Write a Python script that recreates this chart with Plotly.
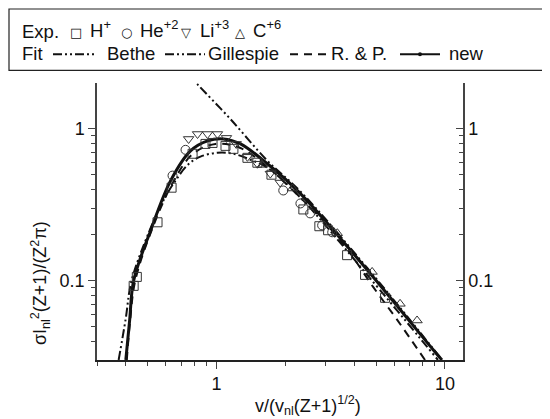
import plotly.graph_objects as go

# ── experimental points ─────────────────────────────────────
h_x = [0.434, 0.448, 0.552, 0.636, 0.786, 0.895, 0.961, 1.095, 1.186, 1.366, 1.51,
       1.74, 2.40, 2.82, 3.08, 3.73, 4.47, 5.47]
h_y = [0.0923, 0.1057, 0.242, 0.409, 0.684, 0.794, 0.806, 0.771, 0.737, 0.643, 0.597,
       0.498, 0.294, 0.228, 0.2145, 0.147, 0.109, 0.077]

he_x = [0.642, 0.732, 1.96, 2.33, 2.57, 2.90, 3.21]
he_y = [0.491, 0.726, 0.392, 0.322, 0.277, 0.231, 0.208]

li_x = [0.755, 0.826, 0.913, 1.01, 1.106, 1.22, 1.366, 1.51, 1.72, 1.90]
li_y = [0.856, 0.923, 0.923, 0.923, 0.87, 0.794, 0.653, 0.588, 0.506, 0.442]

c_x = [1.59, 2.15, 3.38, 4.80, 6.36, 7.55]
c_y = [0.578, 0.404, 0.205, 0.114, 0.0703, 0.0546]

# ── fitted curves ───────────────────────────────────────────
bethe_x = [0.732, 0.826, 1.151, 1.67, 2.33, 4.57, 9.51]
bethe_y = [2.38, 1.957, 1.157, 0.615, 0.386, 0.121, 0.0313]

gill_x = [0.373, 0.40, 0.425, 0.51, 0.60, 0.665, 0.75, 0.851, 1.01, 1.186, 1.407, 1.67,
          2.33, 4.57, 9.32]
gill_y = [0.03, 0.0553, 0.1, 0.214, 0.36, 0.46, 0.58, 0.655, 0.694, 0.684, 0.625, 0.554,
          0.352, 0.109, 0.03]

rp_x = [0.405, 0.419, 0.441, 0.52, 0.643, 0.786, 0.99, 1.273, 1.67, 2.33, 3.15, 3.85,
        4.85, 6.17, 8.18]
rp_y = [0.03, 0.0553, 0.1, 0.214, 0.44, 0.68, 0.794, 0.747, 0.56, 0.352, 0.22, 0.151,
        0.0908, 0.0553, 0.03]

new_x = [0.401, 0.417, 0.434, 0.515, 0.630, 0.770, 0.914, 1.073, 1.273, 1.670, 2.33,
         4.57, 8.86, 9.70]
new_y = [0.030, 0.0553, 0.1, 0.214, 0.455, 0.715, 0.831, 0.856, 0.794, 0.588, 0.374,
         0.1175, 0.0352, 0.030]

FONT = "Liberation Sans, Arial, sans-serif"
INK = "#111111"
DASH_DOT_DOT = "9px,3px,2px,3px,2px,3px"
DASHED = "8px,6px"

fig = go.Figure()

# curves
fig.add_trace(go.Scatter(x=bethe_x, y=bethe_y, mode="lines", name="Bethe",
                         line=dict(color=INK, width=2, dash=DASH_DOT_DOT, shape="spline")))
fig.add_trace(go.Scatter(x=gill_x, y=gill_y, mode="lines", name="Gillespie",
                         line=dict(color=INK, width=2, dash=DASH_DOT_DOT, shape="spline")))
fig.add_trace(go.Scatter(x=rp_x, y=rp_y, mode="lines", name="R. & P.",
                         line=dict(color=INK, width=2, dash=DASHED, shape="spline")))
fig.add_trace(go.Scatter(x=new_x, y=new_y, mode="lines", name="new",
                         line=dict(color=INK, width=3, shape="spline")))

# points
for xs, ys, sym, name in [
    (h_x, h_y, "square-open", "H+"),
    (he_x, he_y, "circle-open", "He+2"),
    (li_x, li_y, "triangle-down-open", "Li+3"),
    (c_x, c_y, "triangle-up-open", "C+6"),
]:
    fig.add_trace(go.Scatter(x=xs, y=ys, mode="markers", name=name,
                             marker=dict(symbol=sym, size=9, color="#333",
                                         line=dict(width=1, color="#333"))))

# dummy trace for the right-hand axis
fig.add_trace(go.Scatter(x=[1], y=[1], yaxis="y2", mode="markers", showlegend=False,
                         marker=dict(opacity=0), hoverinfo="skip"))

xminor = [0.3, 0.4, 0.5, 0.6, 0.7, 0.8, 0.9, 2, 3, 4, 5, 6, 7, 8, 9]
yminor = [0.04, 0.05, 0.06, 0.07, 0.08, 0.09, 0.2, 0.3, 0.4, 0.5, 0.6, 0.7, 0.8, 0.9]
xr = [-0.523, 1.079]
yr = [-1.523, 0.301]

# the page body adds an 8px offset, so the figure is 8px smaller on each side
fig.update_layout(
    width=542, height=411,
    margin=dict(l=89, r=87, t=75, b=59),
    paper_bgcolor="white", plot_bgcolor="white",
    font=dict(family=FONT, size=18, color=INK),
    showlegend=False,
    xaxis=dict(type="log", range=xr, tickvals=[1, 10], ticktext=["1", "10"],
               ticks="outside", ticklen=7, showline=True, linecolor="#222", linewidth=1.5,
               showgrid=False, zeroline=False,
               minor=dict(tickvals=xminor, ticks="outside", ticklen=4, showgrid=False)),
    xaxis2=dict(type="log", range=xr, overlaying="x", side="top", showticklabels=False,
                tickvals=[1, 10], ticks="inside", ticklen=7, showline=True,
                linecolor="#222", linewidth=1.5, showgrid=False,
                minor=dict(tickvals=xminor, ticks="inside", ticklen=4, showgrid=False)),
    yaxis=dict(type="log", range=yr, tickvals=[0.1, 1], ticktext=["0.1", "1"],
               ticks="outside", ticklen=7, showline=True, linecolor="#444", linewidth=1.5,
               showgrid=False, zeroline=False,
               minor=dict(tickvals=yminor, ticks="outside", ticklen=4, showgrid=False)),
    yaxis2=dict(type="log", range=yr, overlaying="y", side="right",
                tickvals=[0.1, 1], ticktext=["0.1", "1"], ticks="inside", ticklen=7,
                showline=True, linecolor="#444", linewidth=1.5, showgrid=False,
                minor=dict(tickvals=yminor, ticks="inside", ticklen=4, showgrid=False)),
)


# ── hand-drawn legend box (Origin style) ────────────────────
def px(x):
    return (x - 97) / 366


def py(y):
    return (360 - y) / 277.3


def label(text, x, y, size=18.5, anchor="left", family=FONT):
    fig.add_annotation(text=text, xref="paper", yref="paper", x=px(x), y=py(y),
                       xanchor=anchor, yanchor="middle", showarrow=False,
                       font=dict(size=size, family=family), borderpad=0)


fig.add_shape(type="rect", xref="paper", yref="paper", x0=px(9), x1=px(549),
              y0=py(70), y1=py(8.6), line=dict(color="#222", width=1.2))

row1, row2 = 31, 53
label("Exp.", 21, row1)
for sym, name, xs, xt in [("□", "H<sup>+</sup>", 76, 89), ("○", "He<sup>+2</sup>", 126, 139),
                          ("▽", "Li<sup>+3</sup>", 186, 199), ("△", "C<sup>+6</sup>", 240, 252)]:
    label(sym, xs, row1 + 1, size=13, anchor="center", family="DejaVu Sans")
    label(name, xt, row1 - 2)

label("Fit", 21, row2)
for dash, x0, x1 in [(DASH_DOT_DOT, 53, 95), (DASH_DOT_DOT, 165, 205), (DASHED, 290, 326),
                     ("solid", 400, 440)]:
    fig.add_shape(type="line", xref="paper", yref="paper", x0=px(x0), x1=px(x1),
                  y0=py(row2 + 1), y1=py(row2 + 1), line=dict(color=INK, width=2, dash=dash))
fig.add_shape(type="circle", xref="paper", yref="paper", x0=px(418), x1=px(422),
              y0=py(row2 + 3), y1=py(row2 - 1), fillcolor=INK, line=dict(color=INK, width=0))
label("Bethe", 106, row2)
label("Gillespie", 207, row2)
label("R. &amp; P.", 330, row2)
label("new", 448, row2)

# axis titles
fig.add_annotation(text="v/(v<sub>nl</sub>(Z+1)<sup>1/2</sup>)", xref="paper", yref="paper",
                   x=px(308), y=py(406), showarrow=False, yanchor="middle",
                   font=dict(size=18))
fig.add_annotation(text="σI<sub>nl</sub><sup>2</sup>(Z+1)/(Z<sup>2</sup>π)", xref="paper",
                   yref="paper", x=px(40), y=py(283), textangle=-90, showarrow=False,
                   xanchor="center", yanchor="middle", font=dict(size=18))

fig.write_html("out.html")
